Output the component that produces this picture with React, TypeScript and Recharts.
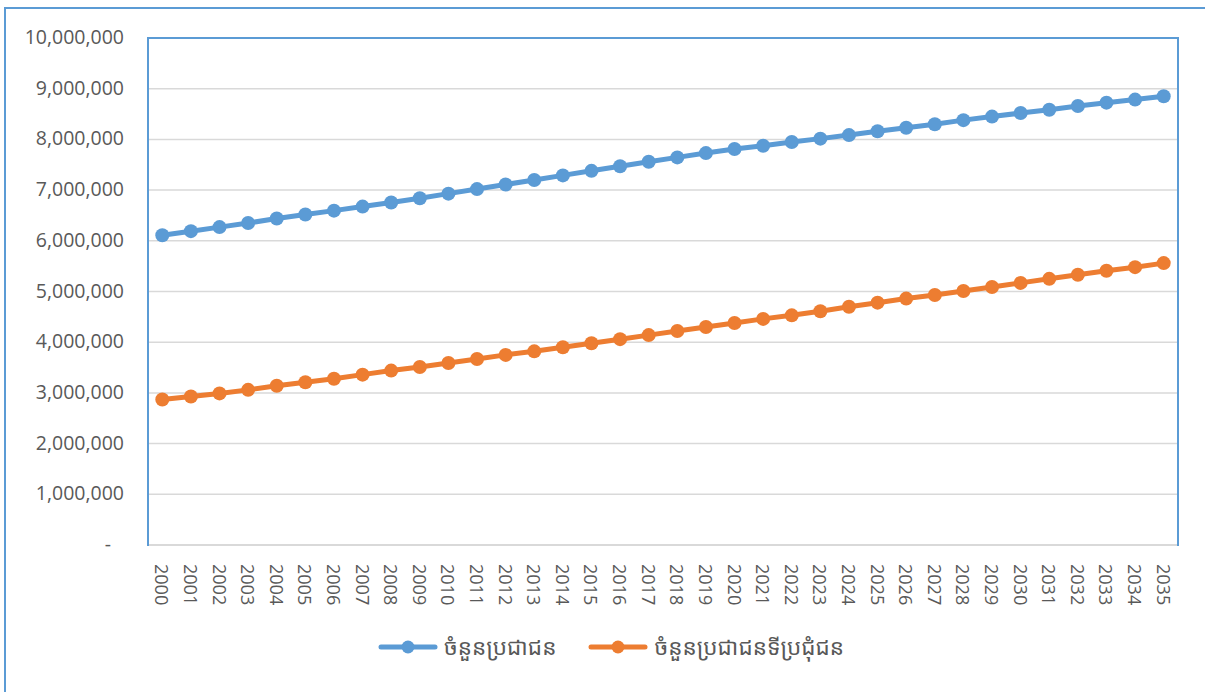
import React from 'react';
import { LineChart, Line, XAxis, YAxis, CartesianGrid, Legend } from 'recharts';

// ឆ្នាំ
const years = [
  2000, 2001, 2002, 2003, 2004, 2005, 2006, 2007, 2008, 2009,
  2010, 2011, 2012, 2013, 2014, 2015, 2016, 2017, 2018, 2019,
  2020, 2021, 2022, 2023, 2024, 2025, 2026, 2027, 2028, 2029,
  2030, 2031, 2032, 2033, 2034, 2035,
];

// ចំនួនប្រជាជន
const totalPop = [
  6110000, 6190000, 6270000, 6350000, 6440000, 6520000, 6595000, 6675000, 6755000, 6840000,
  6930000, 7020000, 7110000, 7200000, 7290000, 7380000, 7470000, 7560000, 7645000, 7730000,
  7810000, 7875000, 7950000, 8015000, 8085000, 8160000, 8230000, 8300000, 8380000, 8450000,
  8520000, 8585000, 8660000, 8725000, 8785000, 8850000,
];

// ចំនួនប្រជាជនទីប្រជុំជន
const urbanPop = [
  2870000, 2930000, 2990000, 3060000, 3140000, 3210000, 3280000, 3360000, 3440000, 3510000,
  3590000, 3670000, 3750000, 3820000, 3900000, 3980000, 4060000, 4140000, 4220000, 4300000,
  4380000, 4460000, 4530000, 4610000, 4700000, 4780000, 4860000, 4930000, 5010000, 5090000,
  5170000, 5250000, 5330000, 5410000, 5480000, 5560000,
];

const yTicks = [0, 1000000, 2000000, 3000000, 4000000, 5000000, 6000000, 7000000, 8000000, 9000000, 10000000];

const seriesNames = ['ចំនួនប្រជាជន', 'ចំនួនប្រជាជនទីប្រជុំជន'];

const data = years.map((y, i) => ({ year: String(y), total: totalPop[i], urban: urbanPop[i] }));

const FONT = '"Open Sans", "Noto Sans", sans-serif';
const KHMER_FONT = '"Noto Sans Khmer", "Khmer OS", "Khmer OS System", "Noto Sans", sans-serif';
const BLUE = '#5B9BD5';
const ORANGE = '#ED7D31';
const TEXT = '#595959';

const YTick = (props: any) => {
  const { x, y, payload } = props;
  const v = payload.value;
  return (
    <text x={v === 0 ? x - 13 : x} y={y} dy={6} textAnchor="end" fill={TEXT} fontSize={19.5} fontFamily={FONT}>
      {v === 0 ? '-' : v.toLocaleString('en-US')}
    </text>
  );
};

const XTick = (props: any) => {
  const { x, y, payload } = props;
  return (
    <text
      x={0}
      y={0}
      transform={`translate(${x - 7}, ${y + 11}) rotate(90)`}
      textAnchor="start"
      fill={TEXT}
      fontSize={18}
      fontFamily={FONT}
    >
      {payload.value}
    </text>
  );
};

const LegendContent = () => {
  const items = [
    { name: seriesNames[0], color: BLUE },
    { name: seriesNames[1], color: ORANGE },
  ];
  return (
    <div style={{ display: 'flex', justifyContent: 'center', gap: 32, paddingLeft: 44 }}>
      {items.map((it) => (
        <div key={it.name} style={{ display: 'flex', alignItems: 'center' }}>
          <svg width={60} height={16} style={{ marginRight: 6 }}>
            <line x1={3} y1={8} x2={57} y2={8} stroke={it.color} strokeWidth={5} strokeLinecap="round" />
            <circle cx={30} cy={8} r={6.5} fill={it.color} />
          </svg>
          <span style={{ color: TEXT, fontSize: 22.5, fontFamily: KHMER_FONT }}>{it.name}</span>
        </div>
      ))}
    </div>
  );
};

export default function App() {
  return (
    <div style={{ position: 'absolute', left: 0, top: 0, width: 1205, height: 692, overflow: 'hidden', background: '#fff' }}>
      {/* chart border */}
      <div
        style={{
          position: 'absolute',
          left: 4,
          top: 7,
          width: 1240,
          height: 720,
          border: `2px solid ${BLUE}`,
          boxSizing: 'border-box',
        }}
      />
      <div style={{ position: 'absolute', left: 0, top: 0 }}>
        <LineChart width={1205} height={692} data={data} margin={{ top: 38, right: 27, bottom: 0, left: 0 }}>
          <CartesianGrid horizontal vertical={false} stroke="#D9D9D9" strokeWidth={1.5} />
          <XAxis
            dataKey="year"
            scale="band"
            height={116}
            interval={0}
            tick={<XTick />}
            tickLine={false}
            axisLine={{ stroke: '#D9D9D9', strokeWidth: 2 }}
          />
          <YAxis
            domain={[0, 10000000]}
            ticks={yTicks}
            width={148}
            tick={<YTick />}
            tickLine={false}
            tickSize={0}
            tickMargin={24}
            interval={0}
            axisLine={false}
          />
          <Legend verticalAlign="bottom" content={<LegendContent />} wrapperStyle={{ bottom: 30 }} />
          <Line
            dataKey="total"
            name={seriesNames[0]}
            stroke={BLUE}
            strokeWidth={5}
            dot={{ r: 7, fill: BLUE, stroke: BLUE, strokeWidth: 0 }}
            isAnimationActive={false}
          />
          <Line
            dataKey="urban"
            name={seriesNames[1]}
            stroke={ORANGE}
            strokeWidth={5}
            dot={{ r: 7, fill: ORANGE, stroke: ORANGE, strokeWidth: 0 }}
            isAnimationActive={false}
          />
        </LineChart>
      </div>
      {/* plot area border (left, top, right) */}
      <div
        style={{
          position: 'absolute',
          left: 147,
          top: 37,
          width: 1032,
          height: 509,
          borderLeft: `2px solid ${BLUE}`,
          borderTop: `2px solid ${BLUE}`,
          borderRight: `2px solid ${BLUE}`,
          boxSizing: 'border-box',
          pointerEvents: 'none',
        }}
      />
    </div>
  );
}
